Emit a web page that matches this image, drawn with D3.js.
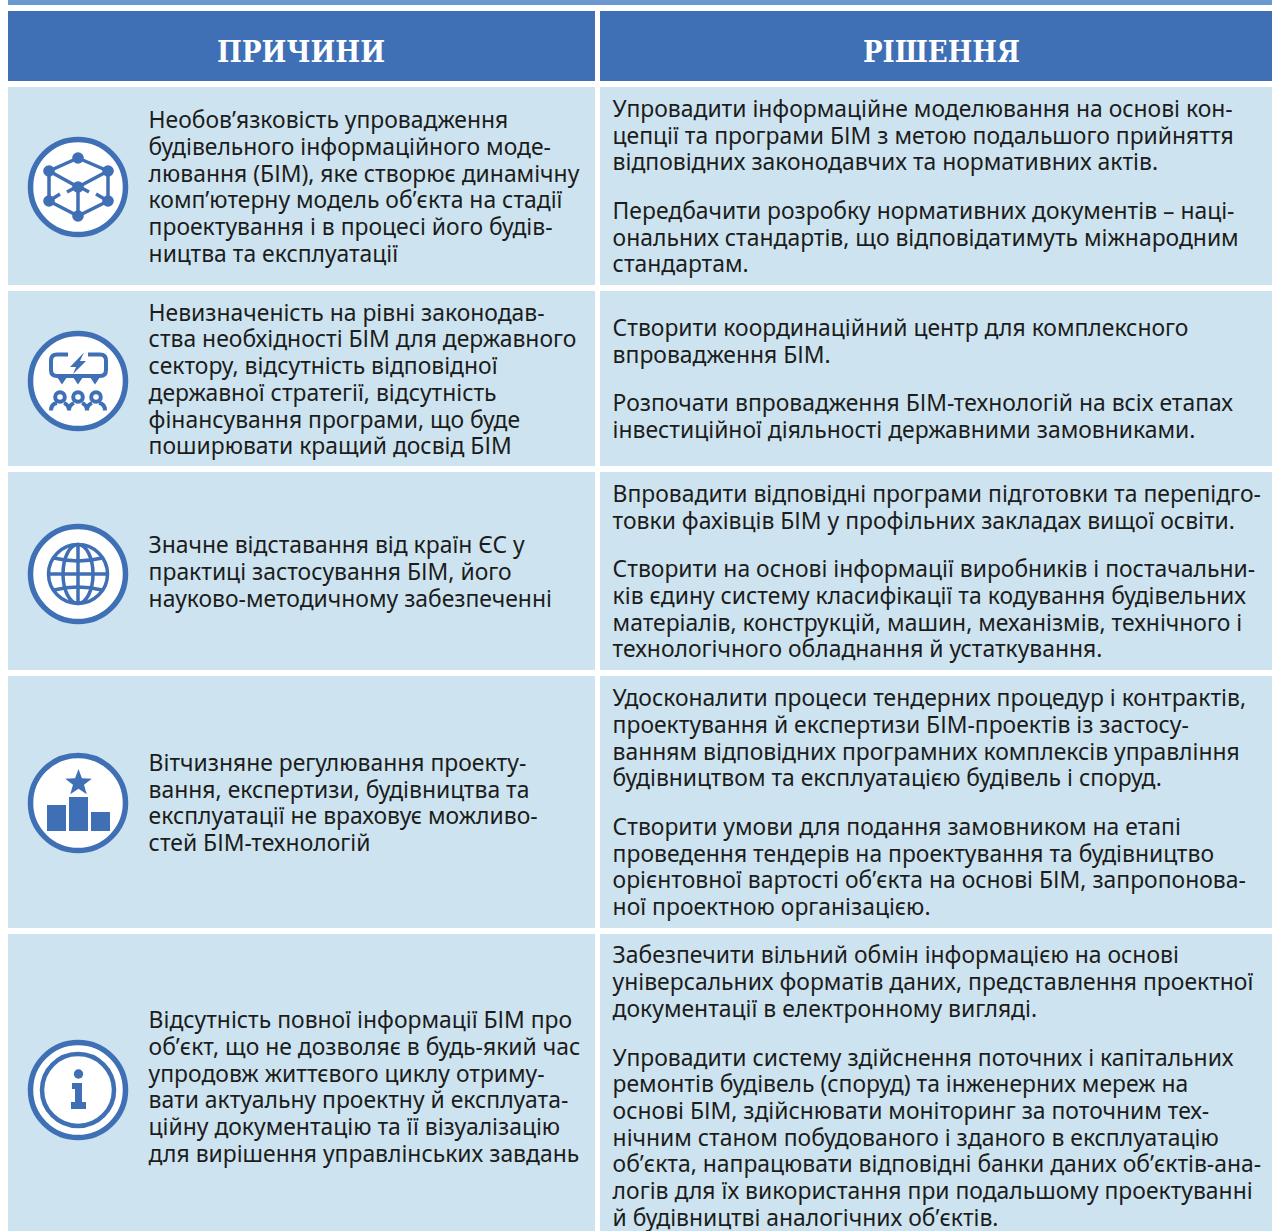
<!DOCTYPE html>
<html lang="uk">
<head>
<meta charset="UTF-8">
<title>Причини та рішення</title>
<script src="https://cdn.jsdelivr.net/npm/d3@7/dist/d3.min.js"></script>
<style>
  html, body { margin: 0; padding: 0; background: #fff; }
  svg { display: block; }
</style>
</head>
<body>
<div id="chart"></div>
<script>
const headers = ['ПРИЧИНИ', 'РІШЕННЯ']

const causes = [
  ['Необов’язковість упровадження', 'будівельного інформаційного моде-', 'лювання (БІМ), яке створює динамічну', 'комп’ютерну модель об’єкта на стадії', 'проектування і в процесі його будів-', 'ництва та експлуатації'],
  ['Невизначеність на рівні законодав-', 'ства необхідності БІМ для державного', 'сектору, відсутність відповідної', 'державної стратегії, відсутність', 'фінансування програми, що буде', 'поширювати кращий досвід БІМ'],
  ['Значне відставання від країн ЄС у', 'практиці застосування БІМ, його', 'науково-методичному забезпеченні'],
  ['Вітчизняне регулювання проекту-', 'вання, експертизи, будівництва та', 'експлуатації не враховує можливо-', 'стей БІМ-технологій'],
  ['Відсутність повної інформації БІМ про', 'об’єкт, що не дозволяє в будь-який час', 'упродовж життєвого циклу отриму-', 'вати актуальну проектну й експлуата-', 'ційну документацію та її візуалізацію', 'для вирішення управлінських завдань']
]

const solutions = [
  [
    ['Упровадити інформаційне моделювання на основі кон-', 'цепції та програми БІМ з метою подальшого прийняття', 'відповідних законодавчих та нормативних актів.'],
    ['Передбачити розробку нормативних документів – наці-', 'ональних стандартів, що відповідатимуть міжнародним', 'стандартам.']
  ],
  [
    ['Створити координаційний центр для комплексного', 'впровадження БІМ.'],
    ['Розпочати впровадження БІМ-технологій на всіх етапах', 'інвестиційної діяльності державними замовниками.']
  ],
  [
    ['Впровадити відповідні програми підготовки та перепідго-', 'товки фахівців БІМ у профільних закладах вищої освіти.'],
    ['Створити на основі інформації виробників і постачальни-', 'ків єдину систему класифікації та кодування будівельних', 'матеріалів, конструкцій, машин, механізмів, технічного і', 'технологічного обладнання й устаткування.']
  ],
  [
    ['Удосконалити процеси тендерних процедур і контрактів,', 'проектування й експертизи БІМ-проектів із застосу-', 'ванням відповідних програмних комплексів управління', 'будівництвом та експлуатацією будівель і споруд.'],
    ['Створити умови для подання замовником на етапі', 'проведення тендерів на проектування та будівництво', 'орієнтовної вартості об’єкта на основі БІМ, запропонова-', 'ної проектною організацією.']
  ],
  [
    ['Забезпечити вільний обмін інформацією на основі', 'універсальних форматів даних, представлення проектної', 'документації в електронному вигляді.'],
    ['Упровадити систему здійснення поточних і капітальних', 'ремонтів будівель (споруд) та інженерних мереж на', 'основі БІМ, здійснювати моніторинг за поточним тех-', 'нічним станом побудованого і зданого в експлуатацію', 'об’єкта, напрацювати відповідні банки даних об’єктів-ана-', 'логів для їх використання при подальшому проектуванні', 'й будівництві аналогічних об’єктів.']
  ]
]

const iconNames = ['cube', 'meeting', 'globe', 'podium', 'info']

const width = 1272
const height = 1231
const blue = '#3f6fb5'
const lightBlue = '#cde4f0'
const textColor = '#1c1c1c'
const bodyFont = '"Noto Sans", "Open Sans", sans-serif'
const lineHeight = 26.7
const paraGap = 22

// row edges as measured on the picture, the last row runs off the page
const rowTops = [87, 291, 472, 676, 934]
const rowBottoms = [285, 466, 670, 928, 1238]
const iconCy = [187, 381, 574, 803, 1090]

const colX = d3.scaleOrdinal().domain([0, 1]).range([8, 600])
const colW = d3.scaleOrdinal().domain([0, 1]).range([587, 672])

const svg = d3.select('#chart').append('svg')
  .attr('width', width)
  .attr('height', height)

svg.append('rect').attr('x', 8).attr('y', 0).attr('width', width - 8).attr('height', 5).attr('fill', '#6b98cf')

// header
const head = svg.selectAll('.head').data(headers).enter().append('g').attr('class', 'head')
head.append('rect')
  .attr('x', (d, i) => colX(i)).attr('y', 11)
  .attr('width', (d, i) => colW(i)).attr('height', 70)
  .attr('fill', blue)
head.append('text')
  .attr('x', (d, i) => colX(i) + colW(i) / 2 + (i ? 5.5 : -0.5))
  .attr('y', 62)
  .attr('text-anchor', 'middle')
  .attr('fill', '#fff')
  .attr('font-family', '"DejaVu Serif", serif')
  .attr('font-weight', 700)
  .attr('font-size', 30)
  .attr('textLength', (d, i) => i ? 157 : 168)
  .attr('lengthAdjust', 'spacingAndGlyphs')
  .text(d => d)

function drawLines(g, x, items) {
  g.selectAll('text').data(items).enter().append('text')
    .attr('x', x)
    .attr('y', d => d.y)
    .attr('fill', textColor)
    .attr('font-family', bodyFont)
    .attr('font-size', 22.9)
    .text(d => d.line)
}

causes.forEach((lines, r) => {
  const cy = (rowTops[r] + rowBottoms[r]) / 2
  const row = svg.append('g').attr('class', 'row')
  rowEdgesRect(row, r, 0)
  rowEdgesRect(row, r, 1)

  // left cell
  const startL = cy - (lines.length - 1) * lineHeight / 2 + 9
  drawLines(row.append('g'), 148.6, lines.map((line, i) => ({ line, y: startL + i * lineHeight })))

  // right cell
  const paras = solutions[r]
  const total = d3.sum(paras, p => p.length - 1) * lineHeight + (paras.length - 1) * (lineHeight + paraGap)
  let y = cy - total / 2 + 8.6
  const items = []
  paras.forEach(p => {
    p.forEach(line => { items.push({ line, y }); y += lineHeight })
    y += paraGap
  })
  drawLines(row.append('g'), 612.6, items)

  drawIcon(row.append('g').attr('transform', `translate(78,${iconCy[r]})`), iconNames[r])
})

function rowEdgesRect(g, r, c) {
  g.append('rect')
    .attr('x', colX(c)).attr('y', rowTops[r])
    .attr('width', colW(c)).attr('height', rowBottoms[r] - rowTops[r])
    .attr('fill', lightBlue)
}

function drawIcon(g, name) {
  g.append('circle').attr('r', 47.5).attr('fill', '#fff').attr('stroke', blue).attr('stroke-width', 5.5)
  const line = (x1, y1, x2, y2, w) => g.append('line')
    .attr('x1', x1).attr('y1', y1).attr('x2', x2).attr('y2', y2)
    .attr('stroke', blue).attr('stroke-width', w || 3.5)
  const path = (d, fill, w) => g.append('path').attr('d', d)
    .attr('fill', fill ? blue : 'none')
    .attr('stroke', fill ? 'none' : blue)
    .attr('stroke-width', w || 3.5)
  const dot = (x, y, r) => g.append('circle').attr('cx', x).attr('cy', y).attr('r', r).attr('fill', blue)

  if (name === 'cube') {
    const top = [0, -29], ul = [-29, -16], ur = [30, -16], ll = [-29, 14], lr = [30, 14], bot = [0, 29], c = [0, 0]
    ;[[top, ul], [top, ur], [ul, ll], [ur, lr], [ll, bot], [lr, bot], [ul, c], [ur, c], [c, bot]].forEach(e => line(e[0][0], e[0][1], e[1][0], e[1][1]))
    line(-11, 5, 0, -1); line(11, 5, 0, -1)
    line(-29, 14, -18, 7); line(30, 14, 18, 7)
    ;[top, ul, ur, ll, lr, bot, c].forEach(p => dot(p[0], p[1], 5.8))
  }
  if (name === 'meeting') {
    path('M-10,-26.5 H-21 Q-27,-26.5 -27,-20.5 V-11 Q-27,-5 -21,-5 H22 Q28,-5 28,-11 V-20.5 Q28,-26.5 22,-26.5 H10', false, 4)
    ;[-16, 0, 17].forEach(x => path(`M${x - 5},-4 H${x + 5} L${x},3.5 Z`, true))
    path('M6,-28.5 L-8,-14 H-2 L-5,-7 L8,-20 H2 Z', true)
    ;[-18, 0, 18].forEach(x => {
      g.append('circle').attr('cx', x).attr('cy', 16).attr('r', 4.8).attr('fill', 'none').attr('stroke', blue).attr('stroke-width', 4)
    })
    path('M-27,29.5 Q-27,23 -21,22 M-9,29.5 Q-9,24 -14,22 M-9,29.5 Q-9,24 -4,22 M9,29.5 Q9,24 4,22 M9,29.5 Q9,24 14,22 M27,29.5 Q27,23 21,22', false, 4)
  }
  if (name === 'globe') {
    g.append('circle').attr('r', 29.5).attr('fill', 'none').attr('stroke', blue).attr('stroke-width', 3.5)
    g.append('ellipse').attr('rx', 15).attr('ry', 29.5).attr('fill', 'none').attr('stroke', blue).attr('stroke-width', 3.5)
    line(0, -29, 0, 29)
    line(-29, 0, 29, 0)
    path('M-24,-16 Q0,-10 24,-16 M-24,16 Q0,10 24,16')
  }
  if (name === 'podium') {
    const star = d3.range(10).map(i => {
      const a = -Math.PI / 2 + i * Math.PI / 5
      const r = i % 2 ? 5.8 : 14
      return [r * Math.cos(a), r * Math.sin(a)]
    })
    g.append('polygon').attr('points', star.map(p => [p[0] + 0.5, p[1] - 20].join(',')).join(' ')).attr('fill', blue)
    const bars = [[-31, 2, 19, 26], [-9, -6, 19, 34], [13, 9, 19, 19]]
    bars.forEach(b => g.append('rect').attr('x', b[0]).attr('y', b[1]).attr('width', b[2]).attr('height', b[3]).attr('fill', blue))
  }
  if (name === 'info') {
    g.append('circle').attr('r', 36).attr('fill', 'none').attr('stroke', blue).attr('stroke-width', 4.5)
    dot(0.5, -16, 4.7)
    path('M-6,-7 H4 V12 H8 V19 H-7 V12 H-3 V-1 H-6 Z', true)
  }
}
</script>
</body>
</html>
